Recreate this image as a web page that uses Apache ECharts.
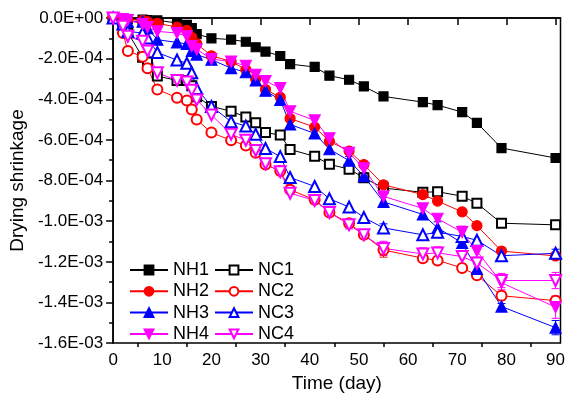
<!DOCTYPE html>
<html>
<head>
<meta charset="utf-8">
<script src="https://cdn.jsdelivr.net/npm/echarts@6/dist/echarts.min.js"></script>
<style>
    body { margin: 0; background: #fff; }
    #chartsdiv { width: 568px; height: 398px; }
</style>
</head>
<body>
<div id="chartsdiv"></div>
<script>
// test days
var days = [0, 2, 3, 6, 7, 9, 13, 15, 16, 17, 20, 24, 27, 29, 31, 34, 36, 41, 44, 48, 51, 55, 63, 66, 71, 74, 79, 90];

// drying shrinkage, unit 1E-04
var NH1 = [0, -0.05, -0.05, -0.08, -0.1, -0.12, -0.24, -0.34, -0.5, -0.79, -1.0, -1.06, -1.17, -1.44, -1.65, -1.87, -2.27, -2.41, -2.84, -3.04, -3.37, -3.86, -4.14, -4.29, -4.63, -5.16, -6.4, -6.89];
var NC1 = [0, -0.34, -0.72, -1.93, -2.17, -2.86, -3.07, -3.07, -3.34, -3.87, -4.35, -4.59, -4.87, -5.16, -5.64, -5.76, -6.47, -6.81, -7.2, -7.44, -7.86, -8.37, -8.58, -8.55, -8.77, -9.12, -10.1, -10.18];
var NH2 = [0, -0.05, -0.08, -0.12, -0.18, -0.26, -0.45, -0.61, -0.95, -1.27, -1.86, -2.14, -2.54, -3.02, -3.52, -3.9, -4.95, -5.37, -6.07, -6.55, -7.21, -8.21, -8.69, -9.01, -9.54, -10.22, -11.47, -11.71];
var NC2 = [0, -0.74, -1.62, -1.91, -2.47, -3.52, -3.92, -4.06, -4.5, -5.0, -5.64, -6.02, -6.28, -6.63, -7.21, -7.53, -8.45, -8.95, -9.57, -10.1, -10.67, -11.42, -11.82, -11.93, -12.3, -12.66, -13.67, -13.91];
var NH3 = [0, -0.1, -0.18, -0.18, -0.5, -1.07, -1.2, -1.28, -1.62, -1.8, -2.05, -2.47, -2.67, -3.07, -3.58, -4.03, -5.24, -5.68, -6.46, -7.02, -7.78, -9.05, -9.67, -10.33, -11.07, -12.35, -14.2, -15.24];
var NC3 = [0, -0.3, -0.66, -0.74, -0.98, -1.7, -2.07, -2.23, -2.7, -3.47, -4.35, -5.1, -5.32, -5.72, -6.42, -6.82, -7.85, -8.29, -8.9, -9.3, -9.82, -10.33, -10.67, -10.54, -10.75, -10.94, -11.7, -11.58];
var NH4 = [0, -0.05, -0.1, -0.3, -0.45, -0.66, -0.74, -0.9, -1.38, -1.54, -2.02, -2.15, -2.35, -2.8, -3.1, -3.45, -4.59, -5.04, -5.92, -6.64, -7.4, -8.78, -9.37, -9.88, -10.54, -11.47, -13.03, -14.23];
var NC4 = [0, -0.4, -0.9, -1.14, -1.62, -2.7, -3.07, -3.15, -3.55, -4.03, -4.77, -5.72, -6.02, -6.52, -7.17, -7.57, -8.62, -8.98, -9.57, -10.18, -10.67, -11.34, -11.61, -11.56, -11.74, -12.06, -12.92, -12.92];

// visible error bars: [day, half width]
var errNH2 = [[79, 0.15], [90, 0.15]];
var errNC2 = [[55, 0.35], [63, 0.15], [79, 0.2], [90, 0.2]];
var errNH3 = [[34, 0.25], [48, 0.2], [51, 0.15], [66, 0.3], [74, 0.25], [79, 0.15], [90, 0.35]];
var errNC3 = [[55, 0.2], [79, 0.2], [90, 0.2]];
var errNH4 = [[71, 0.3], [74, 0.3], [79, 0.35], [90, 0.55]];
var errNC4 = [[48, 0.2], [55, 0.35], [63, 0.3], [66, 0.3], [79, 0.35], [90, 0.4]];

var xMajor = [0, 10, 20, 30, 40, 50, 60, 70, 80, 90];
var xMinor = [5, 15, 25, 35, 45, 55, 65, 75, 85];

var FONT = 'Liberation Sans, Arial, sans-serif';

function pairs(vals) {
    var out = [];
    for (var i = 0; i < days.length; i++) {
        out.push([days[i], vals[i]]);
    }
    return out;
}

function lineSeries(name, vals, color, symbol, size, rotate) {
    return {
        name: name,
        type: 'line',
        data: pairs(vals),
        symbol: symbol,
        symbolSize: size,
        symbolRotate: rotate || 0,
        showAllSymbol: true,
        lineStyle: { color: color, width: 1 },
        itemStyle: { color: color, borderColor: color, borderWidth: 1.2 },
        z: 3,
        animation: false
    };
}

//误差线
function errSeries(vals, errs, color) {
    var d = [];
    for (var i = 0; i < errs.length; i++) {
        var v = vals[days.indexOf(errs[i][0])];
        d.push([errs[i][0], v, errs[i][1]]);
    }
    return {
        type: 'custom',
        data: d,
        z: 2,
        silent: true,
        animation: false,
        renderItem: function (params, api) {
            var x = api.value(0), v = api.value(1), e = api.value(2);
            var hi = api.coord([x, v + e]);
            var lo = api.coord([x, v - e]);
            var st = { stroke: color, lineWidth: 1 };
            return {
                type: 'group',
                children: [
                    { type: 'line', shape: { x1: hi[0], y1: hi[1], x2: lo[0], y2: lo[1] }, style: st },
                    { type: 'line', shape: { x1: hi[0] - 4, y1: hi[1], x2: hi[0] + 4, y2: hi[1] }, style: st },
                    { type: 'line', shape: { x1: lo[0] - 4, y1: lo[1], x2: lo[0] + 4, y2: lo[1] }, style: st }
                ]
            };
        }
    };
}

// 0.0E+00 style labels
function sci(v) {
    if (v === 0) return '0.0E+00';
    var s = (v * 1e-4).toExponential(1).split('e');
    var ex = parseInt(s[1], 10);
    var sign = ex < 0 ? '-' : '+';
    ex = Math.abs(ex);
    return s[0] + 'E' + sign + (ex < 10 ? '0' + ex : ex);
}

var myChart = echarts.init(document.getElementById('chartsdiv'));

var legendText = { fontFamily: FONT, fontSize: 18, color: '#000', lineHeight: 18 };

var option = {
    backgroundColor: '#fff',
    grid: {
        left: 110, right: 6.5, top: 18, bottom: 48,
        show: true, borderColor: '#000', borderWidth: 1.5
    },
    legend: [
        {
            data: ['NH1', 'NH2', 'NH3', 'NH4'],
            orient: 'vertical', left: 124, top: 256,
            itemWidth: 38, itemHeight: 11, itemGap: 3.3,
            textStyle: legendText
        },
        {
            data: ['NC1', 'NC2', 'NC3', 'NC4'],
            orient: 'vertical', left: 209, top: 256,
            itemWidth: 38, itemHeight: 11, itemGap: 3.3,
            textStyle: legendText
        }
    ],
    xAxis: [
        {
            type: 'value', min: 0, max: 91,
            name: 'Time (day)', nameLocation: 'middle', nameGap: 30,
            nameTextStyle: { fontFamily: FONT, fontSize: 19, color: '#000' },
            axisLine: { lineStyle: { color: '#000', width: 1.5 } },
            axisTick: { customValues: xMajor, length: 7, lineStyle: { color: '#000', width: 1.5 } },
            axisLabel: { customValues: xMajor, fontFamily: FONT, fontSize: 17, color: '#000', margin: 9 },
            splitLine: { show: false }
        },
        {
            type: 'value', min: 0, max: 91, position: 'bottom',
            axisLine: { show: false },
            axisTick: { customValues: xMinor, length: 4, lineStyle: { color: '#000', width: 1.5 } },
            axisLabel: { show: false },
            splitLine: { show: false }
        }
    ],
    yAxis: {
        type: 'value', min: -16, max: 0, interval: 2,
        name: 'Drying shrinkage', nameLocation: 'middle', nameGap: 86,
        nameTextStyle: { fontFamily: FONT, fontSize: 19, color: '#000' },
        axisLine: { lineStyle: { color: '#000', width: 1.5 } },
        axisTick: { length: 7, lineStyle: { color: '#000', width: 1.5 } },
        minorTick: { show: true, splitNumber: 2, length: 4, lineStyle: { color: '#000', width: 1.5 } },
        axisLabel: { fontFamily: FONT, fontSize: 17, color: '#000', margin: 10, formatter: sci },
        splitLine: { show: false }
    },
    series: [
        errSeries(NH2, errNH2, '#ff0000'),
        errSeries(NC2, errNC2, '#ff0000'),
        errSeries(NH3, errNH3, '#0000ff'),
        errSeries(NC3, errNC3, '#0000ff'),
        errSeries(NH4, errNH4, '#ff00ff'),
        errSeries(NC4, errNC4, '#ff00ff'),
        lineSeries('NH1', NH1, '#000000', 'rect', 9),
        lineSeries('NC1', NC1, '#000000', 'emptyRect', 9),
        lineSeries('NH2', NH2, '#ff0000', 'circle', 10),
        lineSeries('NC2', NC2, '#ff0000', 'emptyCircle', 10),
        lineSeries('NH3', NH3, '#0000ff', 'triangle', 11),
        lineSeries('NC3', NC3, '#0000ff', 'emptyTriangle', 11),
        lineSeries('NH4', NH4, '#ff00ff', 'triangle', 11, 180),
        lineSeries('NC4', NC4, '#ff00ff', 'emptyTriangle', 11, 180)
    ]
};

myChart.setOption(option);
</script>
</body>
</html>
